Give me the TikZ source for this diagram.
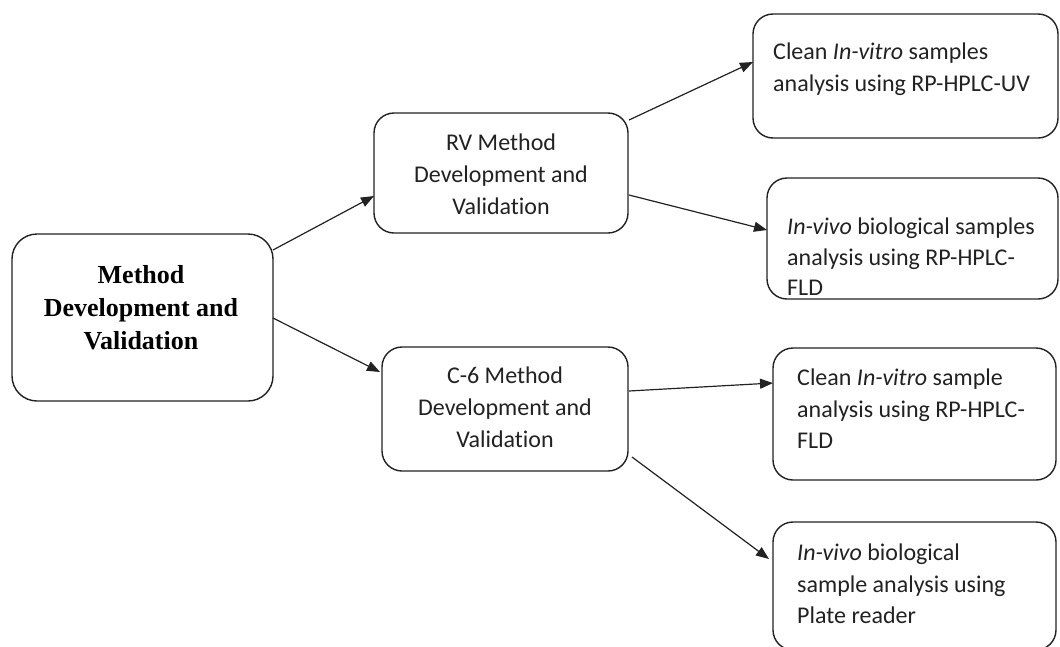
\documentclass[tikz,border=0pt]{standalone}
\usepackage{fontspec}
\setmainfont{Carlito}[RawFeature={-liga;-clig;-calt;-dlig}]
\newfontfamily\tnr{Liberation Serif}
\usetikzlibrary{arrows.meta,calc}
\definecolor{ink}{HTML}{222222}
\newcommand{\Valid}{Validat\kern0pt ion}
\begin{document}
\begin{tikzpicture}[x=1pt,y=-1pt,
  box/.style={draw=ink, line width=1.4pt, rounded corners=20pt, inner sep=0pt, outer sep=0pt},
  arr/.style={draw=ink, line width=1.2pt, -{Triangle[length=13pt,width=10pt]}},
  mtxt/.style={font=\tnr\bfseries\fontsize{26}{33}\selectfont, align=center, inner sep=0pt, text=black},
  ctxt/.style={font=\fontsize{24}{32}\selectfont, align=center, inner sep=0pt, text=ink},
  ltxt/.style={font=\fontsize{24}{31.7}\selectfont, align=left, inner sep=0pt, text=ink}]
\useasboundingbox (0,0) rectangle (1060,646);
\fill[white] (0,0) rectangle (1060,646);
% boxes
\node[box, rounded corners=25pt, minimum width=261pt, minimum height=167pt] (m) at (142.5,317.5) {};
\node[box, minimum width=254pt, minimum height=120pt] (rv) at (501,173) {};
\node[box, minimum width=246pt, minimum height=124pt] (c6) at (505,409) {};
\node[box, minimum width=305pt, minimum height=124pt] (b1) at (905.5,76) {};
\node[box, minimum width=291pt, minimum height=121pt] (b2) at (912.5,238.5) {};
\node[box, minimum width=283pt, minimum height=132pt] (b3) at (914.5,414) {};
\node[box, minimum width=283pt, minimum height=128pt] (b4) at (914.5,586) {};
% texts
\node[mtxt, anchor=north] (mt) at (141,265.5) {Method\\Development and\\Validation};
\node[ctxt, anchor=north] (rvt) at (501,133.5) {RV Method\\Development and\\\Valid};
\node[ctxt, anchor=north] (c6t) at (505,366.5) {C-6 Method\\Development and\\\Valid};
\node[ltxt, anchor=north west] (b1t) at (773,42.5) {Clean \textit{In-vitro} samples\\analysis using RP-HPLC-UV};
\node[ltxt, anchor=north west, font=\fontsize{24}{30.5}\selectfont] (b2t) at (787,218) {\textit{In-vivo} biological samples\\analysis using RP-HPLC-\\FLD};
\node[ltxt, anchor=north west] (b3t) at (797,368.5) {Clean \textit{In-vitro} sample\\analysis using RP-HPLC-\\FLD};
\node[ltxt, anchor=north west] (b4t) at (797,543.5) {\textit{In-vivo} biological\\sample analysis using\\Plate reader};
% connectors
\draw[arr] ($(m.north east)+(0,16)$) -- ($(rv.south west)+(0,-37)$);
\draw[arr] ($(m.east)+(0,0.5)$) -- ($(c6.north west)+(-2,25)$);
\draw[arr] ($(rv.north east)+(1,7)$) -- ($(b1.north west)+(0,48)$);
\draw[arr] ($(rv.east)+(1,22)$) -- ($(b2.north west)+(0,52)$);
\draw[arr] ($(c6.east)+(1,-18)$) -- ($(b3.north west)+(0,35)$);
\draw[arr] ($(c6.south east)+(4,-14)$) -- ($(b4.north west)+(-4,37)$);
\end{tikzpicture}
\end{document}
